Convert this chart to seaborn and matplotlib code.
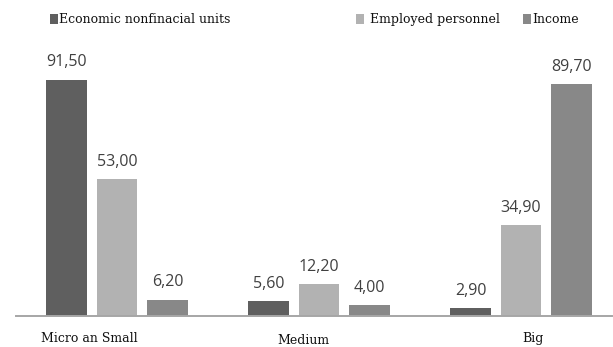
import matplotlib
matplotlib.use("Agg")
import matplotlib.pyplot as plt
import matplotlib.transforms as mtransforms
from matplotlib.patches import Patch
import pandas as pd
import seaborn as sns

# Company size groups and the three indicators (percent shares)
sizes = ["Micro an Small", "Medium", "Big"]
series = ["Economic nonfinacial units", "Employed personnel", "Income"]
units = [91.50, 5.60, 2.90]
employed = [53.00, 12.20, 34.90]
income = [6.20, 4.00, 89.70]
colors = ["#5f5f5f", "#b2b2b2", "#888888"]

df = pd.DataFrame({
    "size": sizes * 3,
    "indicator": [series[0]] * 3 + [series[1]] * 3 + [series[2]] * 3,
    "value": units + employed + income,
})

sns.set_theme(style="white")
W, H = 613, 347
fig = plt.figure(figsize=(W / 100, H / 100), dpi=100)

# axes placed in pixel terms
left_px, right_px = 16, 612
bottom_px = 315.5
ymax = 110
px_per_unit = 2.579
height_px = ymax * px_per_unit
ax = fig.add_axes([left_px / W, (H - bottom_px) / H,
                   (right_px - left_px) / W, height_px / H])

sns.barplot(data=df, x="size", y="value", hue="indicator", order=sizes,
            hue_order=series, palette=colors, width=0.75, gap=0.2,
            linewidth=0, saturation=1, legend=False, ax=ax)

ax.set_xlim(-0.5, 2.45)
ax.set_ylim(0, ymax)
ax.set_xlabel("")
ax.set_ylabel("")
ax.set_yticks([])
for s in ["top", "left", "right"]:
    ax.spines[s].set_visible(False)
ax.spines["bottom"].set_color("#a6a6a6")
ax.spines["bottom"].set_linewidth(1.4)

# value labels with decimal comma
for cont in ax.containers:
    vals = [b.get_height() for b in cont]
    ax.bar_label(cont, labels=[f"{v:.2f}".replace(".", ",") for v in vals],
                 padding=6.5, fontsize=11.5, color="#404040",
                 family=["Open Sans", "DejaVu Sans"])

# category labels, each nudged into place
ax.set_xticks(range(len(sizes)))
ax.set_xticklabels(sizes, fontsize=9, family="DejaVu Serif", color="#111111")
ax.tick_params(axis="x", length=0, pad=12)
offsets = [(-27.5, 0), (-16, -1.5), (12, 0)]
for lab, (dx, dy) in zip(ax.get_xticklabels(), offsets):
    lab.set_transform(lab.get_transform() +
                      mtransforms.ScaledTranslation(dx / 100, dy / 100, fig.dpi_scale_trans))

# legend entries placed individually across the top
entries = [(50, 0.1), (356, 0.45), (523, 0.1)]
for (x_px, pad), name, col in zip(entries, series, colors):
    leg = fig.legend(handles=[Patch(facecolor=col, edgecolor="none", label=name)],
                     loc="center left", bbox_to_anchor=(x_px / W, 1 - 19.5 / H),
                     bbox_transform=fig.transFigure, frameon=False,
                     borderpad=0, borderaxespad=0, handlelength=0.65,
                     handleheight=0.85, handletextpad=pad,
                     prop={"family": "DejaVu Serif", "size": 9})
    for t in leg.get_texts():
        t.set_color("#111111")

fig.savefig("out.png", dpi=100)
